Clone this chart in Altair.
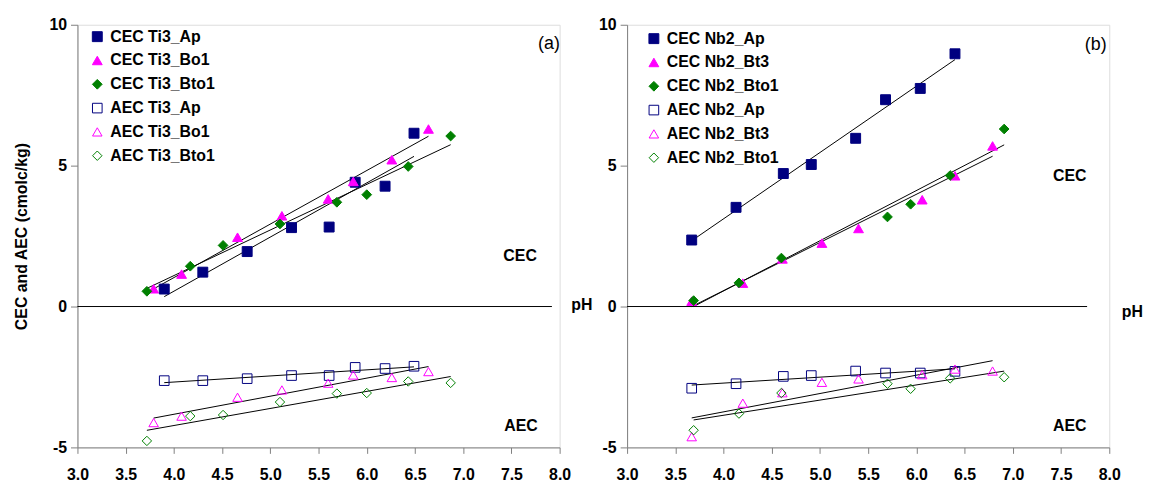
import altair as alt
import pandas as pd

# ---------------- data ----------------
x_ticks = [3.0, 3.5, 4.0, 4.5, 5.0, 5.5, 6.0, 6.5, 7.0, 7.5, 8.0]
y_ticks = [-5, 0, 5, 10]

# Panel (a) – Ti3
ti3_series = ["CEC Ti3_Ap", "CEC Ti3_Bo1", "CEC Ti3_Bto1",
              "AEC Ti3_Ap", "AEC Ti3_Bo1", "AEC Ti3_Bto1"]
ti3_ap_ph = [3.90, 4.30, 4.76, 5.22, 5.61, 5.88, 6.19, 6.49]
ti3_ap_cec = [0.62, 1.22, 1.95, 2.80, 2.82, 4.41, 4.27, 6.15]
ti3_ap_aec = [-2.63, -2.63, -2.56, -2.45, -2.45, -2.16, -2.20, -2.12]
ti3_bo1_ph = [3.79, 4.08, 4.66, 5.12, 5.60, 5.86, 6.26, 6.64]
ti3_bo1_cec = [0.63, 1.15, 2.46, 3.22, 3.82, 4.44, 5.21, 6.30]
ti3_bo1_aec = [-4.12, -3.89, -3.22, -2.96, -2.72, -2.43, -2.52, -2.31]
ti3_bto1_ph = [3.72, 4.17, 4.51, 5.10, 5.69, 6.00, 6.43, 6.87]
ti3_bto1_cec = [0.54, 1.43, 2.17, 2.93, 3.70, 3.97, 4.97, 6.05]
ti3_bto1_aec = [-4.77, -3.89, -3.85, -3.39, -3.09, -3.07, -2.66, -2.71]

# Panel (b) – Nb2
nb2_series = ["CEC Nb2_Ap", "CEC Nb2_Bt3", "CEC Nb2_Bto1",
              "AEC Nb2_Ap", "AEC Nb2_Bt3", "AEC Nb2_Bto1"]
nb2_ap_ph = [3.67, 4.13, 4.62, 4.91, 5.37, 5.68, 6.04, 6.40]
nb2_ap_cec = [2.36, 3.52, 4.72, 5.04, 5.97, 7.34, 7.74, 8.97]
nb2_ap_aec = [-2.90, -2.74, -2.48, -2.45, -2.29, -2.36, -2.36, -2.30]
nb2_bt3_ph = [3.67, 4.20, 4.61, 5.02, 5.40, 6.06, 6.40, 6.79]
nb2_bt3_cec = [0.19, 0.83, 1.69, 2.25, 2.77, 3.79, 4.64, 5.70]
nb2_bt3_aec = [-4.62, -3.43, -3.06, -2.69, -2.57, -2.42, -2.22, -2.29]
nb2_bto1_ph = [3.69, 4.16, 4.60, 5.70, 5.94, 6.35, 6.91]
nb2_bto1_cec = [0.21, 0.84, 1.72, 3.18, 3.63, 4.65, 6.30]
nb2_bto1_aec = [-4.39, -3.80, -3.07, -2.74, -2.92, -2.55, -2.51]

# annotations (data coordinates)
ann_labels = ["CEC", "AEC", "pH"]
ti3_ann_x = [7.59, 7.60, 8.23]
ti3_ann_y = [1.80, -4.25, 0.05]
nb2_ann_x = [7.59, 7.59, 8.24]
nb2_ann_y = [4.62, -4.23, -0.20]
panel_tags = ["(a)", "(b)"]
tag_x = [7.89, 7.86]
tag_y = [9.30, 9.27]
zero_line_end = [7.92, 7.77]

# styling per series (same order for both panels)
series_shapes = ["square", "triangle-up", "diamond", "square", "triangle-up", "diamond"]
series_fills = ["#000080", "#FF00FF", "#008000", "transparent", "transparent", "transparent"]
series_strokes = ["#000080", "#FF00FF", "#008000", "#000080", "#FF00FF", "#008000"]
series_sizes = [100, 90, 64, 90, 90, 60]

FONT = "Liberation Sans"


def build_df(series, phs, cecs, aecs):
    rows = []
    for i in range(3):
        for p, v in zip(phs[i], cecs[i]):
            rows.append({"series": series[i], "pH": p, "value": v})
    for i in range(3):
        for p, v in zip(phs[i], aecs[i]):
            rows.append({"series": series[i + 3], "pH": p, "value": v})
    return pd.DataFrame(rows)


def panel(series, df, ann_x, ann_y, tag, tx, ty, zend, lx, ly, width, show_title):
    xs = alt.Scale(domain=[3, 8], nice=False, zero=False)
    ys = alt.Scale(domain=[-5, 10], nice=False, zero=False)
    x_axis = alt.Axis(values=x_ticks, format=".1f", title=None, grid=False,
                      labelFontSize=16, labelFontWeight="bold", labelFont=FONT,
                      labelColor="black", domainColor="#808080", tickColor="#808080",
                      tickSize=6, labelPadding=13, labelFlush=False)
    y_axis = alt.Axis(values=y_ticks, labelExpr="datum.value + ''", grid=False,
                      title="CEC and AEC (cmolc/kg)" if show_title else None,
                      titleFontSize=16, titleFontWeight="bold", titleFont=FONT,
                      titleColor="black", titlePadding=20,
                      labelFontSize=16, labelFontWeight="bold", labelFont=FONT,
                      labelColor="black", domainColor="#808080", tickColor="#808080",
                      tickSize=7, labelPadding=4)
    legend = alt.Legend(orient="none", legendX=lx, legendY=ly, title=None,
                        labelFontSize=16, labelFontWeight="bold", labelFont=FONT,
                        labelColor="black", rowPadding=8, labelOffset=5,
                        symbolStrokeWidth=1, padding=0)

    base = alt.Chart(df)
    lines = base.transform_regression(
        "pH", "value", groupby=["series"]
    ).mark_line(color="black", strokeWidth=1).encode(
        x=alt.X("pH:Q", scale=xs, axis=x_axis),
        y=alt.Y("value:Q", scale=ys, axis=y_axis),
        detail="series:N",
    )
    points = base.mark_point(opacity=1, strokeWidth=1).encode(
        x=alt.X("pH:Q", scale=xs, axis=x_axis),
        y=alt.Y("value:Q", scale=ys, axis=y_axis),
        shape=alt.Shape("series:N", scale=alt.Scale(domain=series, range=series_shapes), legend=legend),
        fill=alt.Fill("series:N", scale=alt.Scale(domain=series, range=series_fills), legend=legend),
        stroke=alt.Stroke("series:N", scale=alt.Scale(domain=series, range=series_strokes), legend=legend),
        size=alt.Size("series:N", scale=alt.Scale(domain=series, range=series_sizes), legend=legend),
    )
    zero = alt.Chart(pd.DataFrame({"a": [0]})).mark_rule(color="black", strokeWidth=1).encode(
        x=alt.datum(3.0), x2=alt.datum(zend), y=alt.datum(0)
    )
    ann_df = pd.DataFrame({"label": ann_labels, "x": ann_x, "y": ann_y})
    ann = alt.Chart(ann_df).mark_text(font=FONT, fontSize=16, fontWeight="bold",
                                      color="black", align="center", baseline="middle").encode(
        x="x:Q", y="y:Q", text="label:N"
    )
    tag_df = pd.DataFrame({"label": [tag], "x": [tx], "y": [ty]})
    tagm = alt.Chart(tag_df).mark_text(font=FONT, fontSize=18, color="black",
                                       align="center", baseline="middle").encode(
        x="x:Q", y="y:Q", text="label:N"
    )
    return alt.layer(zero, lines, points, ann, tagm).properties(width=width, height=426)


df_a = build_df(ti3_series, [ti3_ap_ph, ti3_bo1_ph, ti3_bto1_ph],
                [ti3_ap_cec, ti3_bo1_cec, ti3_bto1_cec],
                [ti3_ap_aec, ti3_bo1_aec, ti3_bto1_aec])
df_b = build_df(nb2_series, [nb2_ap_ph, nb2_bt3_ph, nb2_bto1_ph],
                [nb2_ap_cec, nb2_bt3_cec, nb2_bto1_cec],
                [nb2_ap_aec, nb2_bt3_aec, nb2_bto1_aec])

left = panel(ti3_series, df_a, ti3_ann_x, ti3_ann_y, panel_tags[0], tag_x[0], tag_y[0],
             zero_line_end[0], 12, 4, 486, True)
right = panel(nb2_series, df_b, nb2_ann_x, nb2_ann_y, panel_tags[1], tag_x[1], tag_y[1],
              zero_line_end[1], 19, 6, 486, False)

chart = alt.hconcat(left, right, spacing=68, bounds="flush").resolve_scale(
    shape="independent", fill="independent", stroke="independent", size="independent",
    x="independent", y="independent"
).resolve_legend(
    shape="independent", fill="independent", stroke="independent", size="independent"
).properties(
    padding={"left": 4, "top": 6, "right": 0, "bottom": 0}
).configure_view(stroke=None).configure(background="white")

chart.save("out.html", embed_options={"renderer": "svg", "actions": False})
